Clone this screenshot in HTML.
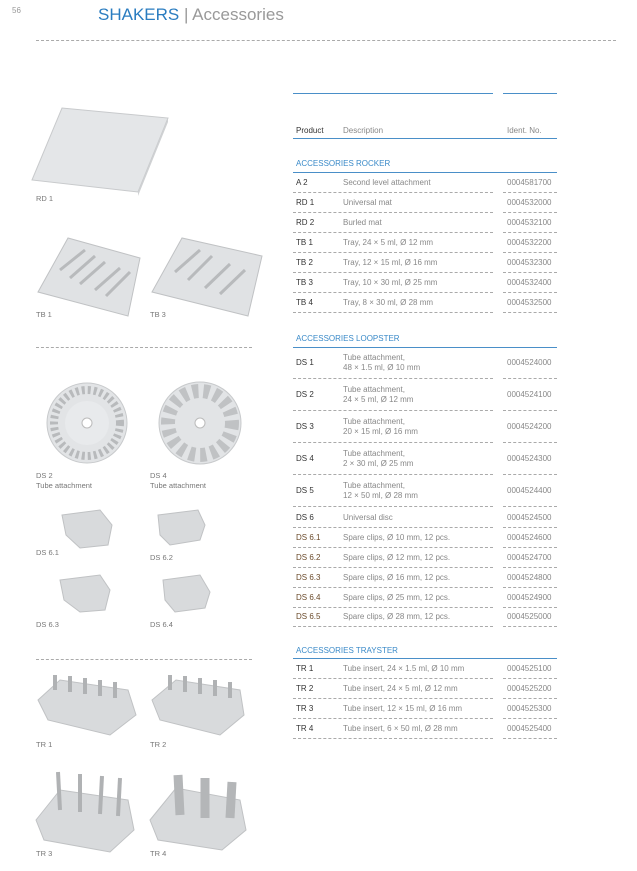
<!DOCTYPE html>
<html><head><meta charset="utf-8"><style>
body{margin:0;width:637px;height:871px;background:#fff;position:relative;overflow:hidden;font-family:"Liberation Sans",sans-serif}
.a{position:absolute;white-space:nowrap}
.t{font-size:8px;line-height:10px;color:#888}
.p{font-size:8px;line-height:10px;color:#333}
.o{color:#6a4a2a}
.h{font-size:8px;color:#3a8ac8}
.dl{position:absolute;height:0;border-top:1px dashed #aaa}
.bl{position:absolute;height:0;border-top:1.5px solid #4a8fc8}
.lab{font-size:7.5px;color:#777;line-height:10px}
</style></head><body>
<div class="a" style="left:12px;top:6px;font-size:8px;color:#999">56</div>
<div class="a" style="left:98px;top:5px;font-size:17px;color:#2a7cc0">SHAKERS <span style="color:#999">| Accessories</span></div>
<div class="dl" style="left:36px;top:40px;width:580px"></div>

<div class="bl" style="left:293px;top:93px;width:200px"></div>
<div class="bl" style="left:503px;top:93px;width:54px"></div>
<div class="a p" style="left:296px;top:126px">Product</div>
<div class="a t" style="left:343px;top:126px">Description</div>
<div class="a t" style="left:507px;top:126px">Ident. No.</div>
<div class="bl" style="left:293px;top:138px;width:264px"></div>

<div class="a h" style="left:296px;top:159px">ACCESSORIES ROCKER</div>
<div class="bl" style="left:293px;top:172px;width:264px"></div>

<div class="a p" style="left:296px;top:178px">A 2</div><div class="a t" style="left:343px;top:178px">Second level attachment</div><div class="a t" style="left:507px;top:178px">0004581700</div>
<div class="dl" style="left:293px;top:192px;width:200px"></div><div class="dl" style="left:503px;top:192px;width:54px"></div>
<div class="a p" style="left:296px;top:198px">RD 1</div><div class="a t" style="left:343px;top:198px">Universal mat</div><div class="a t" style="left:507px;top:198px">0004532000</div>
<div class="dl" style="left:293px;top:212px;width:200px"></div><div class="dl" style="left:503px;top:212px;width:54px"></div>
<div class="a p" style="left:296px;top:218px">RD 2</div><div class="a t" style="left:343px;top:218px">Burled mat</div><div class="a t" style="left:507px;top:218px">0004532100</div>
<div class="dl" style="left:293px;top:232px;width:200px"></div><div class="dl" style="left:503px;top:232px;width:54px"></div>
<div class="a p" style="left:296px;top:238px">TB 1</div><div class="a t" style="left:343px;top:238px">Tray, 24 × 5 ml, Ø 12 mm</div><div class="a t" style="left:507px;top:238px">0004532200</div>
<div class="dl" style="left:293px;top:252px;width:200px"></div><div class="dl" style="left:503px;top:252px;width:54px"></div>
<div class="a p" style="left:296px;top:258px">TB 2</div><div class="a t" style="left:343px;top:258px">Tray, 12 × 15 ml, Ø 16 mm</div><div class="a t" style="left:507px;top:258px">0004532300</div>
<div class="dl" style="left:293px;top:272px;width:200px"></div><div class="dl" style="left:503px;top:272px;width:54px"></div>
<div class="a p" style="left:296px;top:278px">TB 3</div><div class="a t" style="left:343px;top:278px">Tray, 10 × 30 ml, Ø 25 mm</div><div class="a t" style="left:507px;top:278px">0004532400</div>
<div class="dl" style="left:293px;top:292px;width:200px"></div><div class="dl" style="left:503px;top:292px;width:54px"></div>
<div class="a p" style="left:296px;top:298px">TB 4</div><div class="a t" style="left:343px;top:298px">Tray, 8 × 30 ml, Ø 28 mm</div><div class="a t" style="left:507px;top:298px">0004532500</div>
<div class="dl" style="left:293px;top:312px;width:200px"></div><div class="dl" style="left:503px;top:312px;width:54px"></div>

<div class="a h" style="left:296px;top:334px">ACCESSORIES LOOPSTER</div>
<div class="bl" style="left:293px;top:347px;width:264px"></div>

<div class="a p" style="left:296px;top:358px">DS 1</div><div class="a t" style="left:343px;top:353px">Tube attachment,<br>48 × 1.5 ml, Ø 10 mm</div><div class="a t" style="left:507px;top:358px">0004524000</div>
<div class="dl" style="left:293px;top:378px;width:200px"></div><div class="dl" style="left:503px;top:378px;width:54px"></div>
<div class="a p" style="left:296px;top:390px">DS 2</div><div class="a t" style="left:343px;top:385px">Tube attachment,<br>24 × 5 ml, Ø 12 mm</div><div class="a t" style="left:507px;top:390px">0004524100</div>
<div class="dl" style="left:293px;top:410px;width:200px"></div><div class="dl" style="left:503px;top:410px;width:54px"></div>
<div class="a p" style="left:296px;top:422px">DS 3</div><div class="a t" style="left:343px;top:417px">Tube attachment,<br>20 × 15 ml, Ø 16 mm</div><div class="a t" style="left:507px;top:422px">0004524200</div>
<div class="dl" style="left:293px;top:442px;width:200px"></div><div class="dl" style="left:503px;top:442px;width:54px"></div>
<div class="a p" style="left:296px;top:454px">DS 4</div><div class="a t" style="left:343px;top:449px">Tube attachment,<br>2 × 30 ml, Ø 25 mm</div><div class="a t" style="left:507px;top:454px">0004524300</div>
<div class="dl" style="left:293px;top:474px;width:200px"></div><div class="dl" style="left:503px;top:474px;width:54px"></div>
<div class="a p" style="left:296px;top:486px">DS 5</div><div class="a t" style="left:343px;top:481px">Tube attachment,<br>12 × 50 ml, Ø 28 mm</div><div class="a t" style="left:507px;top:486px">0004524400</div>
<div class="dl" style="left:293px;top:506px;width:200px"></div><div class="dl" style="left:503px;top:506px;width:54px"></div>
<div class="a p" style="left:296px;top:513px">DS 6</div><div class="a t" style="left:343px;top:513px">Universal disc</div><div class="a t" style="left:507px;top:513px">0004524500</div>
<div class="dl" style="left:293px;top:527px;width:200px"></div><div class="dl" style="left:503px;top:527px;width:54px"></div>
<div class="a p o" style="left:296px;top:533px">DS 6.1</div><div class="a t" style="left:343px;top:533px">Spare clips, Ø 10 mm, 12 pcs.</div><div class="a t" style="left:507px;top:533px">0004524600</div>
<div class="dl" style="left:293px;top:547px;width:200px"></div><div class="dl" style="left:503px;top:547px;width:54px"></div>
<div class="a p o" style="left:296px;top:553px">DS 6.2</div><div class="a t" style="left:343px;top:553px">Spare clips, Ø 12 mm, 12 pcs.</div><div class="a t" style="left:507px;top:553px">0004524700</div>
<div class="dl" style="left:293px;top:567px;width:200px"></div><div class="dl" style="left:503px;top:567px;width:54px"></div>
<div class="a p o" style="left:296px;top:573px">DS 6.3</div><div class="a t" style="left:343px;top:573px">Spare clips, Ø 16 mm, 12 pcs.</div><div class="a t" style="left:507px;top:573px">0004524800</div>
<div class="dl" style="left:293px;top:587px;width:200px"></div><div class="dl" style="left:503px;top:587px;width:54px"></div>
<div class="a p o" style="left:296px;top:593px">DS 6.4</div><div class="a t" style="left:343px;top:593px">Spare clips, Ø 25 mm, 12 pcs.</div><div class="a t" style="left:507px;top:593px">0004524900</div>
<div class="dl" style="left:293px;top:607px;width:200px"></div><div class="dl" style="left:503px;top:607px;width:54px"></div>
<div class="a p o" style="left:296px;top:612px">DS 6.5</div><div class="a t" style="left:343px;top:612px">Spare clips, Ø 28 mm, 12 pcs.</div><div class="a t" style="left:507px;top:612px">0004525000</div>
<div class="dl" style="left:293px;top:626px;width:200px"></div><div class="dl" style="left:503px;top:626px;width:54px"></div>

<div class="a h" style="left:296px;top:646px">ACCESSORIES TRAYSTER</div>
<div class="bl" style="left:293px;top:658px;width:264px"></div>
<div class="a p" style="left:296px;top:664px">TR 1</div><div class="a t" style="left:343px;top:664px">Tube insert, 24 × 1.5 ml, Ø 10 mm</div><div class="a t" style="left:507px;top:664px">0004525100</div>
<div class="dl" style="left:293px;top:678px;width:200px"></div><div class="dl" style="left:503px;top:678px;width:54px"></div>
<div class="a p" style="left:296px;top:684px">TR 2</div><div class="a t" style="left:343px;top:684px">Tube insert, 24 × 5 ml, Ø 12 mm</div><div class="a t" style="left:507px;top:684px">0004525200</div>
<div class="dl" style="left:293px;top:698px;width:200px"></div><div class="dl" style="left:503px;top:698px;width:54px"></div>
<div class="a p" style="left:296px;top:704px">TR 3</div><div class="a t" style="left:343px;top:704px">Tube insert, 12 × 15 ml, Ø 16 mm</div><div class="a t" style="left:507px;top:704px">0004525300</div>
<div class="dl" style="left:293px;top:718px;width:200px"></div><div class="dl" style="left:503px;top:718px;width:54px"></div>
<div class="a p" style="left:296px;top:724px">TR 4</div><div class="a t" style="left:343px;top:724px">Tube insert, 6 × 50 ml, Ø 28 mm</div><div class="a t" style="left:507px;top:724px">0004525400</div>
<div class="dl" style="left:293px;top:738px;width:200px"></div><div class="dl" style="left:503px;top:738px;width:54px"></div>

<svg class="a" style="left:0;top:0" width="290" height="871">
<polygon points="32,180 62,108 168,118 138,192" fill="#e4e6e8" stroke="#c8cacc"/>
<polygon points="138,192 168,118 168,122 138,196" fill="#cfd1d3"/>
<g fill="#e0e2e4" stroke="#c0c2c4">
<polygon points="38,292 68,238 140,258 128,316"/>
<polygon points="152,292 182,238 262,256 248,316"/>
</g>
<g stroke="#b8babc" stroke-width="3">
<line x1="60" y1="270" x2="85" y2="250"/><line x1="70" y1="278" x2="95" y2="256"/><line x1="80" y1="284" x2="105" y2="262"/><line x1="95" y1="290" x2="120" y2="268"/><line x1="106" y1="296" x2="130" y2="272"/>
<line x1="175" y1="272" x2="200" y2="250"/><line x1="188" y1="280" x2="212" y2="256"/><line x1="205" y1="288" x2="230" y2="264"/><line x1="220" y1="294" x2="245" y2="270"/>
</g>
<circle cx="87" cy="423" r="40" fill="#e2e4e6" stroke="#c8cacc"/>
<circle cx="87" cy="423" r="33" fill="none" stroke="#b8babc" stroke-width="8" stroke-dasharray="3 3"/>
<circle cx="87" cy="423" r="22" fill="#e8eaec"/>
<circle cx="87" cy="423" r="5" fill="#fff" stroke="#bbb"/>
<circle cx="200" cy="423" r="41" fill="#e2e4e6" stroke="#c8cacc"/>
<circle cx="200" cy="423" r="32" fill="none" stroke="#c0c2c4" stroke-width="14" stroke-dasharray="6 5"/>
<circle cx="200" cy="423" r="5" fill="#fff" stroke="#bbb"/>
<g fill="#d8dadc" stroke="#c0c2c4">
<path d="M62,515 L100,510 L112,525 L108,545 L80,548 L66,535 Z"/>
<path d="M158,515 L198,510 L205,525 L200,540 L170,545 L160,535 Z"/>
<path d="M60,580 L100,575 L110,590 L105,610 L80,612 L64,600 Z"/>
<path d="M163,580 L200,575 L210,592 L205,608 L175,612 L165,600 Z"/>
<path d="M38,700 L60,680 L128,690 L136,715 L110,735 L48,720 Z"/>
<path d="M152,700 L176,680 L240,690 L244,715 L220,735 L160,720 Z"/>
<path d="M36,820 L60,790 L128,800 L134,830 L110,852 L44,840 Z"/>
<path d="M150,820 L176,788 L240,800 L246,830 L222,850 L158,840 Z"/>
</g>
<g stroke="#b0b2b4" stroke-width="4">
<line x1="55" y1="690" x2="55" y2="675"/><line x1="70" y1="692" x2="70" y2="676"/><line x1="85" y1="694" x2="85" y2="678"/><line x1="100" y1="696" x2="100" y2="680"/><line x1="115" y1="698" x2="115" y2="682"/>
<line x1="170" y1="690" x2="170" y2="675"/><line x1="185" y1="692" x2="185" y2="676"/><line x1="200" y1="694" x2="200" y2="678"/><line x1="215" y1="696" x2="215" y2="680"/><line x1="230" y1="698" x2="230" y2="682"/>
<line x1="60" y1="810" x2="58" y2="772"/><line x1="80" y1="812" x2="80" y2="774"/><line x1="100" y1="814" x2="102" y2="776"/><line x1="118" y1="816" x2="120" y2="778"/>
</g>
<g stroke="#b4b6b8" stroke-width="9">
<line x1="180" y1="815" x2="178" y2="775"/><line x1="205" y1="818" x2="205" y2="778"/><line x1="230" y1="818" x2="232" y2="782"/>
</g>
</svg>
<div class="dl" style="left:36px;top:347px;width:216px"></div>
<div class="dl" style="left:36px;top:659px;width:216px"></div>

<div class="a lab" style="left:36px;top:194px">RD 1</div>
<div class="a lab" style="left:36px;top:310px">TB 1</div>
<div class="a lab" style="left:150px;top:310px">TB 3</div>
<div class="a lab" style="left:36px;top:471px">DS 2<br>Tube attachment</div>
<div class="a lab" style="left:150px;top:471px">DS 4<br>Tube attachment</div>
<div class="a lab" style="left:36px;top:548px">DS 6.1</div>
<div class="a lab" style="left:150px;top:553px">DS 6.2</div>
<div class="a lab" style="left:36px;top:620px">DS 6.3</div>
<div class="a lab" style="left:150px;top:620px">DS 6.4</div>
<div class="a lab" style="left:36px;top:740px">TR 1</div>
<div class="a lab" style="left:150px;top:740px">TR 2</div>
<div class="a lab" style="left:36px;top:849px">TR 3</div>
<div class="a lab" style="left:150px;top:849px">TR 4</div>
</body></html>
